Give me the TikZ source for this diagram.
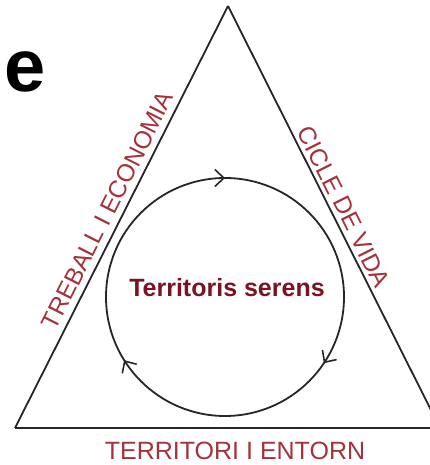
\documentclass[tikz,border=0pt]{standalone}
\usepackage{fontspec}
\setmainfont{Liberation Sans}
\usetikzlibrary{arrows.meta,decorations.markings}
\definecolor{wine}{HTML}{7A1424}
\definecolor{rust}{HTML}{A3323C}
\tikzset{side/.style={line width=1.8pt,draw=black!85},
  sidelab/.style={sloped,above,text=rust,font=\fontsize{24.5}{24.5}\selectfont,inner sep=5pt},
  barb/.tip={Straight Barb[length=9pt,width=17pt,line width=1.6pt]},
  ring/.style={line width=1.8pt,draw=black!85,postaction=decorate,
    decoration={markings,
      mark=at position .25 with {\arrow{barb}},
      mark=at position .594 with {\arrow{barb}},
      mark=at position .911 with {\arrow{barb}}}}}

\begin{document}
\begin{tikzpicture}[x=1pt,y=1pt]
\useasboundingbox (0,0) rectangle (429,465);

% Corners of the triangle.
\coordinate (apex) at (228,459);
\coordinate (bl) at (15,37);
\coordinate (br) at (440,37);

% Panel letter.
\node[font=\bfseries\fontsize{74}{74}\selectfont] (panel) at (25,393) {e};

% Triangle with its three labels.
\draw[side] (bl) -- (apex) node[sidelab,pos=.5,inner sep=6pt] (work) {TREBALL I ECONOMIA};
\draw[side] (apex) -- (br) node[sidelab,pos=.49,inner sep=4pt] (life) {CICLE DE VIDA};
\draw[side] (br) -- (bl);
\node[text=rust,font=\fontsize{25}{25}\selectfont] (land) at (235,14.5) {TERRITORI I ENTORN};

% Clockwise cycle in the middle.
\draw[ring] (225,168) ++(180:119) arc[start angle=180,end angle=-180,radius=119];
\node[text=wine,font=\bfseries\fontsize{25}{25}\selectfont] (calm) at (227,177) {Territoris serens};
\end{tikzpicture}
\end{document}
